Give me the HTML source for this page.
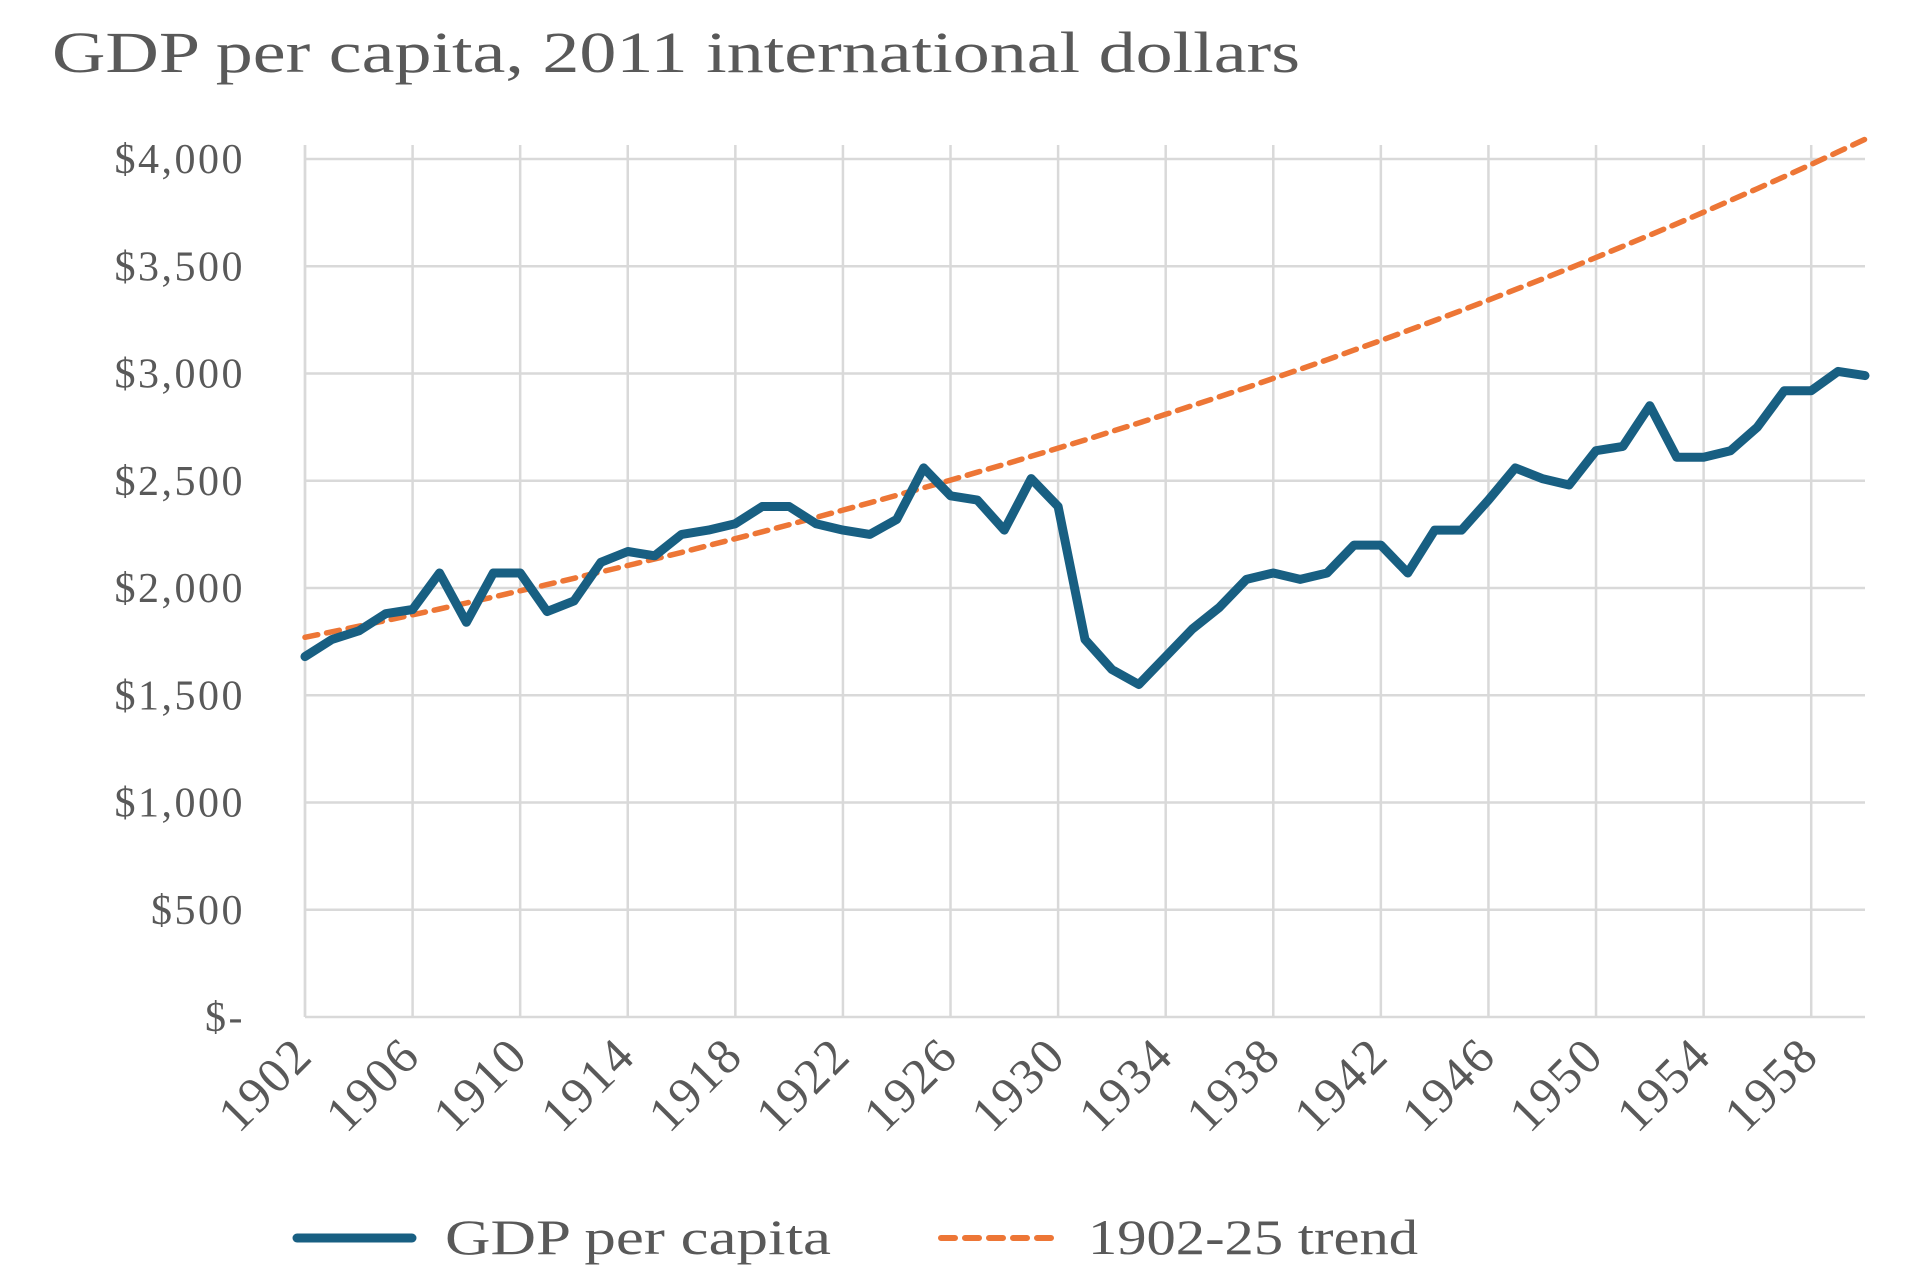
<!DOCTYPE html>
<html><head><meta charset="utf-8">
<style>
html,body{margin:0;padding:0;background:#fff;}
svg{display:block;}
text{font-family:"Liberation Serif",serif;fill:#595959;}
</style></head>
<body>
<svg id="chart" width="1925" height="1283" viewBox="0 0 1925 1283" xmlns="http://www.w3.org/2000/svg">
<text x="52" y="72" font-size="58" textLength="1248" lengthAdjust="spacingAndGlyphs">GDP per capita, 2011 international dollars</text>
<g id="grid"></g>
<g id="ylabels"></g>
<g id="xlabels"></g>
<g id="series"></g>
<g>
  <g>
    <line x1="297" y1="1238" x2="412" y2="1238" stroke="#185f82" stroke-width="9" stroke-linecap="round"/>
    <text x="445" y="1254" font-size="50" textLength="386" lengthAdjust="spacingAndGlyphs">GDP per capita</text>
  </g>
  <g>
    <line x1="941" y1="1238" x2="1057" y2="1238" stroke="#ed7636" stroke-width="6" stroke-dasharray="14,10" stroke-linecap="round"/>
    <text x="1088" y="1254" font-size="50" textLength="330" lengthAdjust="spacingAndGlyphs">1902-25 trend</text>
  </g>
</g>
</svg>
<script>
const years = [1902,1903,1904,1905,1906,1907,1908,1909,1910,1911,1912,1913,1914,1915,1916,1917,1918,1919,1920,1921,1922,1923,1924,1925,1926,1927,1928,1929,1930,1931,1932,1933,1934,1935,1936,1937,1938,1939,1940,1941,1942,1943,1944,1945,1946,1947,1948,1949,1950,1951,1952,1953,1954,1955,1956,1957,1958,1959,1960];
const gdp = [1680,1760,1800,1880,1900,2070,1840,2070,2070,1890,1940,2120,2170,2150,2250,2270,2300,2380,2380,2300,2270,2250,2320,2560,2430,2410,2270,2510,2380,1760,1620,1550,1680,1810,1910,2040,2070,2040,2070,2200,2200,2070,2270,2270,2410,2560,2510,2480,2640,2660,2850,2610,2610,2640,2750,2920,2920,3010,2990];
const trend = [1770,1796,1822,1848,1875,1902,1930,1958,1987,2016,2045,2075,2105,2135,2166,2198,2230,2262,2295,2329,2363,2397,2432,2467,2503,2540,2576,2614,2652,2690,2730,2769,2810,2851,2892,2934,2977,3020,3064,3109,3154,3200,3247,3294,3342,3391,3440,3490,3541,3593,3645,3698,3752,3807,3862,3918,3975,4033,4092];
const yTicks = [0,500,1000,1500,2000,2500,3000,3500,4000];
const yTickLabels = ["$-","$500","$1,000","$1,500","$2,000","$2,500","$3,000","$3,500","$4,000"];
const xTicks = [1902,1906,1910,1914,1918,1922,1926,1930,1934,1938,1942,1946,1950,1954,1958];

const L=305,R=1865,T=159,B=1017;
const xMin=1902,xMax=1960,yMin=0,yMax=4000;
const NS="http://www.w3.org/2000/svg";
function sx(v){return L+(v-xMin)/(xMax-xMin)*(R-L);}
function sy(v){return B-(v-yMin)/(yMax-yMin)*(B-T);}
function mk(tag,attrs,parent){const e=document.createElementNS(NS,tag);for(const k in attrs)e.setAttribute(k,attrs[k]);parent.appendChild(e);return e;}

const grid=document.getElementById('grid');
yTicks.forEach(v=>{
  const l=mk('line',{x1:L,x2:R,y1:sy(v),y2:sy(v),stroke:'#d9d9d9','stroke-width':2.5},grid);
  
  
});
mk('line',{x1:L,x2:L,y1:T-14,y2:B,stroke:'#d9d9d9','stroke-width':2.5},grid);
xTicks.forEach(v=>{
  const l=mk('line',{x1:sx(v),x2:sx(v),y1:T-14,y2:B,stroke:'#d9d9d9','stroke-width':2.5},grid);
  
  
});

const yl=document.getElementById('ylabels');
yTicks.forEach((v,i)=>{
  const t=mk('text',{x:245,y:sy(v)+14,'text-anchor':'end','font-size':42,'letter-spacing':2.5},yl);
  t.textContent=yTickLabels[i];
  
  
});

const xl=document.getElementById('xlabels');
xTicks.forEach(v=>{
  const x=sx(v)+10,y=1058;
  const t=mk('text',{x:x,y:y,'text-anchor':'end','font-size':50,'letter-spacing':2,transform:`rotate(-45 ${x} ${y})`},xl);
  t.textContent=String(v);
  
  
});

const s=document.getElementById('series');
const tp=mk('path',{d:trend.map((v,i)=>(i?'L':'M')+sx(years[i]).toFixed(1)+','+sy(v).toFixed(1)).join(''),fill:'none',stroke:'#ed7636','stroke-width':5.5,'stroke-dasharray':'13,9','stroke-linecap':'round'},s);


const gp=mk('path',{d:gdp.map((v,i)=>(i?'L':'M')+sx(years[i]).toFixed(1)+','+sy(v).toFixed(1)).join(''),fill:'none',stroke:'#185f82','stroke-width':9,'stroke-linejoin':'round','stroke-linecap':'round'},s);


</script>
</body></html>
